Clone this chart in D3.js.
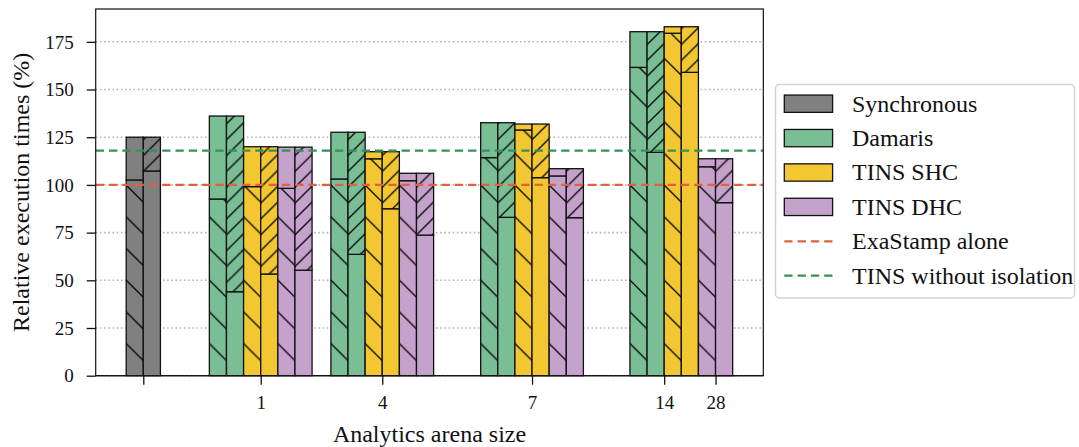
<!DOCTYPE html>
<html>
<head>
<meta charset="utf-8">
<script src="https://cdn.jsdelivr.net/npm/d3@7"></script>
<style>
  html, body { margin: 0; padding: 0; background: #fff; }
  svg { display: block; }
</style>
</head>
<body>
<svg id="chart" width="1079" height="447"></svg>
<script>
// ---------------- data ----------------
const methods = ["Synchronous", "Damaris", "TINS SHC", "TINS DHC"];
const methodColors = ["#808080", "#79be95", "#f2c731", "#c5a2cb"];

// one entry per bar pair (left bar + right bar)
const pairMethod = [0, 1, 2, 3, 1, 2, 3, 1, 2, 3, 1, 2, 3];
const pairX      = [2.78, 7.64, 9.64, 11.64, 14.74, 16.74, 18.74, 23.49, 25.49, 27.49, 32.21, 34.21, 36.21];
const totals     = [125.0, 136.1, 120.0, 119.8, 127.6, 117.4, 106.1, 132.6, 131.9, 108.5, 180.3, 182.9, 113.7];
const leftSplit  = [102.6, 92.6, 99.1, 98.2, 103.1, 113.7, 102.2, 114.3, 128.8, 104.7, 161.6, 179.5, 109.5];
const rightSplit = [107.3, 44.0, 53.3, 55.3, 63.6, 87.5, 73.7, 83.0, 103.8, 82.8, 117.1, 159.0, 90.7];

const xTickPositions = [2.78, 9.64, 16.74, 25.49, 33.21, 36.21];
const xTickLabels    = ["", "1", "4", "7", "14", "28"];
const yTicks = [0, 25, 50, 75, 100, 125, 150, 175];

const refLabels = ["ExaStamp alone", "TINS without isolation"];
const refValues = [100, 118];
const refColors = ["#e2603e", "#35915b"];

// ---------------- layout ----------------
const FONT = "'Liberation Serif'";
const svg = d3.select("#chart");
const plot = { left: 95.7, right: 763.3, top: 9, bottom: 375.7 };

const x = d3.scaleLinear().domain([0, 39]).range([plot.left, plot.right]);
const y = d3.scaleLinear().domain([0, 192.2]).range([plot.bottom, plot.top]);

const defs = svg.append("defs");

// grid
svg.append("g").selectAll("line").data(yTicks.filter(d => d > 0)).join("line")
  .attr("x1", plot.left).attr("x2", plot.right)
  .attr("y1", d => y(d)).attr("y2", d => y(d))
  .attr("stroke", "#b3b3b3").attr("stroke-width", 1.6)
  .attr("stroke-dasharray", "1.6,2.6");

// bars
const P1 = 31.7, P2 = 15.85;
const barsG = svg.append("g");
const pairs = pairX.map((px, i) => ({
  i, px, m: pairMethod[i], total: totals[i], ls: leftSplit[i], rs: rightSplit[i]
}));

pairs.forEach(p => {
  const col = methodColors[p.m];
  const xl = x(p.px - 1), xm = x(p.px), xr = x(p.px + 1);
  const pb = defs.append("pattern").attr("id", "hb" + p.i)
    .attr("patternUnits", "userSpaceOnUse")
    .attr("x", xl).attr("y", 26.5).attr("width", P1).attr("height", P1);
  pb.append("path")
    .attr("d", `M-2,-2L${P1 + 2},${P1 + 2}M${P1 - 2},-2L${P1 + 2},2M-2,${P1 - 2}L2,${P1 + 2}`)
    .attr("stroke", "#000").attr("stroke-width", 1.25).attr("fill", "none");
  const pf = defs.append("pattern").attr("id", "hf" + p.i)
    .attr("patternUnits", "userSpaceOnUse")
    .attr("x", xm).attr("y", 13).attr("width", P2).attr("height", P2);
  pf.append("path")
    .attr("d", `M-2,${P2 + 2}L${P2 + 2},-2M-2,2L2,-2M${P2 - 2},${P2 + 2}L${P2 + 2},${P2 - 2}`)
    .attr("stroke", "#000").attr("stroke-width", 1.25).attr("fill", "none");

  const segs = [
    { x0: xl, x1: xm, v0: 0, v1: p.ls, hatch: "hb" + p.i },
    { x0: xl, x1: xm, v0: p.ls, v1: p.total, hatch: null },
    { x0: xm, x1: xr, v0: 0, v1: p.rs, hatch: null },
    { x0: xm, x1: xr, v0: p.rs, v1: p.total, hatch: "hf" + p.i }
  ];
  segs.forEach(s => {
    barsG.append("rect")
      .attr("x", s.x0).attr("width", s.x1 - s.x0)
      .attr("y", y(s.v1)).attr("height", y(s.v0) - y(s.v1))
      .attr("fill", col);
    if (s.hatch) {
      barsG.append("rect")
        .attr("x", s.x0).attr("width", s.x1 - s.x0)
        .attr("y", y(s.v1)).attr("height", y(s.v0) - y(s.v1))
        .attr("fill", `url(#${s.hatch})`);
    }
    barsG.append("rect")
      .attr("x", s.x0).attr("width", s.x1 - s.x0)
      .attr("y", y(s.v1)).attr("height", y(s.v0) - y(s.v1))
      .attr("fill", "none").attr("stroke", "#111").attr("stroke-width", 1.3);
  });
});

// reference lines
svg.append("g").selectAll("line").data(refValues).join("line")
  .attr("x1", plot.left).attr("x2", plot.right)
  .attr("y1", d => y(d)).attr("y2", d => y(d))
  .attr("stroke", (d, i) => refColors[i]).attr("stroke-width", 2.2)
  .attr("stroke-dasharray", "8.3,5");

// baseline
svg.append("line")
  .attr("x1", plot.left).attr("x2", plot.right)
  .attr("y1", y(0)).attr("y2", y(0))
  .attr("stroke", "#111").attr("stroke-width", 1.2);
svg.append("line")
  .attr("x1", plot.left).attr("x2", plot.right)
  .attr("y1", y(0)).attr("y2", y(0))
  .attr("stroke", "#9a9a9a").attr("stroke-width", 1.6)
  .attr("stroke-dasharray", "1.6,2.6");

// frame
svg.append("rect")
  .attr("x", plot.left).attr("y", plot.top)
  .attr("width", plot.right - plot.left).attr("height", plot.bottom - plot.top)
  .attr("fill", "none").attr("stroke", "#111").attr("stroke-width", 1.2);

// y axis
const yAxis = d3.axisLeft(y).tickValues(yTicks).tickSize(9).tickPadding(13).tickFormat(d3.format("d"));
const yG = svg.append("g").attr("transform", `translate(${plot.left},0)`).call(yAxis);
yG.select(".domain").remove();
yG.selectAll(".tick line").attr("stroke", "#111").attr("stroke-width", 1.3);
yG.selectAll(".tick text").style("font-size", "19px").style("font-family", FONT)
  .attr("fill", "#111").attr("dy", "0.33em");

// x axis
const xAxis = d3.axisBottom(x).tickValues(xTickPositions)
  .tickFormat((d, i) => xTickLabels[i]).tickSize(9).tickPadding(11);
const xG = svg.append("g").attr("transform", `translate(0,${plot.bottom})`).call(xAxis);
xG.select(".domain").remove();
xG.selectAll(".tick line").attr("stroke", "#111").attr("stroke-width", 1.3);
xG.selectAll(".tick text").style("font-size", "19px").style("font-family", FONT).attr("fill", "#111");

// axis labels
svg.append("text")
  .attr("x", (plot.left + plot.right) / 2).attr("y", 442)
  .attr("text-anchor", "middle")
  .style("font-family", FONT).style("font-size", "24px").attr("fill", "#111")
  .text("Analytics arena size");
svg.append("text")
  .attr("transform", `translate(29,${(plot.top + plot.bottom) / 2}) rotate(-90)`)
  .attr("text-anchor", "middle")
  .style("font-family", FONT).style("font-size", "24px").attr("fill", "#111")
  .text("Relative execution times (%)");

// legend
const lg = svg.append("g");
lg.append("rect")
  .attr("x", 775.5).attr("y", 84.5).attr("width", 299).attr("height", 213.5)
  .attr("rx", 4).attr("fill", "#fff").attr("stroke", "#d3d3d3").attr("stroke-width", 1.5);
const rowY = i => 103.7 + i * 34.4;
const legendItems = methods.map((m, i) => ({ label: m, type: "patch", color: methodColors[i] }))
  .concat(refLabels.map((l, i) => ({ label: l, type: "line", color: refColors[i] })));
legendItems.forEach((it, i) => {
  const cy = rowY(i);
  if (it.type === "patch") {
    lg.append("rect").attr("x", 784.3).attr("y", cy - 8.65).attr("width", 48.3).attr("height", 17.3)
      .attr("fill", it.color).attr("stroke", "#111").attr("stroke-width", 1.3);
  } else {
    lg.append("line").attr("x1", 784.3).attr("x2", 832.6).attr("y1", cy).attr("y2", cy)
      .attr("stroke", it.color).attr("stroke-width", 2.2).attr("stroke-dasharray", "8.3,5");
  }
  lg.append("text").attr("x", 852).attr("y", cy).attr("dy", "0.33em")
    .style("font-family", FONT).style("font-size", "24px").attr("fill", "#111")
    .text(it.label);
});
</script>
</body>
</html>
